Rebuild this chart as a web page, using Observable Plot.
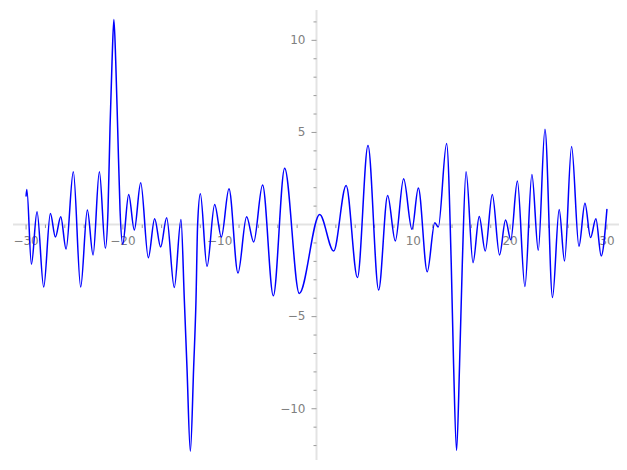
<!DOCTYPE html>
<html><head><meta charset="utf-8">
<script src="https://cdn.jsdelivr.net/npm/d3@7"></script>
<script src="https://cdn.jsdelivr.net/npm/@observablehq/plot@0.6"></script>
<style>body{margin:0;background:#fff}</style>
</head><body><div id="chart"></div>
<script>
const xValues = [-30.0,-29.92,-29.45,-28.87,-28.18,-27.49,-26.97,-26.42,-25.87,-25.12,-24.36,-23.67,-23.08,-22.43,-21.81,-21.54,-21.33,-21.12,-20.93,-20.74,-20.54,-20.29,-20.02,-19.40,-18.82,-18.16,-17.37,-16.72,-16.10,-15.48,-14.69,-14.00,-13.65,-13.38,-13.03,-12.69,-12.45,-12.28,-12.00,-11.31,-10.52,-9.83,-9.04,-8.11,-7.22,-6.49,-5.57,-4.46,-3.29,-1.78,0.33,1.77,3.06,4.23,5.32,6.42,7.35,8.14,9.00,9.86,10.52,11.44,12.22,12.58,13.44,13.92,14.16,14.47,14.78,15.06,15.45,16.17,16.81,17.43,18.16,18.91,19.53,20.07,20.75,21.53,22.25,22.91,23.60,24.38,25.07,25.62,26.35,27.11,27.73,28.31,28.86,29.41,30.0];
const yValues = [1.55,1.9,-2.16,0.69,-3.39,0.60,-0.68,0.42,-1.33,2.86,-3.39,0.79,-1.65,2.86,-1.29,0.73,5.24,8.86,11.13,8.86,5.24,0.73,-1.07,1.63,-0.30,2.27,-1.80,0.32,-1.22,0.37,-3.42,0.28,-4.14,-7.76,-12.31,-7.76,-4.14,0.0,1.67,-2.28,1.09,-0.68,1.94,-2.63,0.42,-0.95,2.14,-3.87,3.06,-3.74,0.55,-1.44,2.12,-2.88,4.29,-3.55,1.58,-0.89,2.48,-0.26,1.99,-2.56,0.10,-0.14,4.40,-2.16,-7.57,-12.27,-7.57,-2.16,2.86,-2.07,0.44,-1.44,1.63,-1.65,0.24,-0.83,2.36,-3.37,2.72,-1.40,5.17,-3.96,0.82,-1.98,4.24,-1.18,1.15,-0.71,0.31,-1.71,0.82];
const xTickLabels = [-30,-20,-10,10,20,30];
const yTickLabels = [-10,-5,5,10];
const xMinorTicks = [-28,-26,-24,-22,-18,-16,-14,-12,-8,-6,-4,-2,2,4,6,8,12,14,16,18,22,24,26,28];
const yMinorTicks = [-12,-11,-9,-8,-7,-6,-4,-3,-2,-1,1,2,3,4,6,7,8,9,11];

const data = xValues.map((x, i) => ({x, y: yValues[i]}));
const fmt = d => d < 0 ? "\u2212" + Math.abs(d) : String(d);
const tickDown = {draw(ctx, size) { const l = Math.sqrt(size / Math.PI); ctx.moveTo(0, 0); ctx.lineTo(0, l); }};
const tickLeft = {draw(ctx, size) { const l = Math.sqrt(size / Math.PI); ctx.moveTo(0, 0); ctx.lineTo(-l, 0); }};
const axisGray = "#e3e3e3", tickGray = "#9a9a9a", labelGray = "#808080";

const chart = Plot.plot({
  width: 627, height: 470,
  marginLeft: 13, marginRight: 8, marginTop: 10, marginBottom: 10,
  x: {domain: [-31.3, 31.3], axis: null},
  y: {domain: [-12.81, 11.62], axis: null},
  style: {fontFamily: "DejaVu Sans", fontSize: "12px", background: "white"},
  marks: [
    Plot.ruleY([0], {stroke: axisGray, strokeWidth: 2}),
    Plot.ruleX([0], {stroke: axisGray, strokeWidth: 2}),
    Plot.dot(xMinorTicks, {x: d => d, y: 0, r: 3.5, symbol: tickDown, stroke: tickGray, fill: "none", strokeWidth: 1}),
    Plot.dot(xTickLabels, {x: d => d, y: 0, r: 5, symbol: tickDown, stroke: tickGray, fill: "none", strokeWidth: 1}),
    Plot.dot(yMinorTicks, {x: 0, y: d => d, r: 3, symbol: tickLeft, stroke: tickGray, fill: "none", strokeWidth: 1}),
    Plot.dot(yTickLabels, {x: 0, y: d => d, r: 5, symbol: tickLeft, stroke: tickGray, fill: "none", strokeWidth: 1}),
    Plot.text(xTickLabels, {x: d => d, y: 0, dy: 16.5, text: fmt, fill: labelGray}),
    Plot.text(yTickLabels, {x: 0, y: d => d, dx: -11, textAnchor: "end", text: fmt, fill: labelGray}),
    Plot.line(data, {x: "x", y: "y", curve: "monotone-x", stroke: "#0000ff", strokeWidth: 1.5})
  ]
});
document.getElementById("chart").appendChild(chart);
</script>
</body></html>
